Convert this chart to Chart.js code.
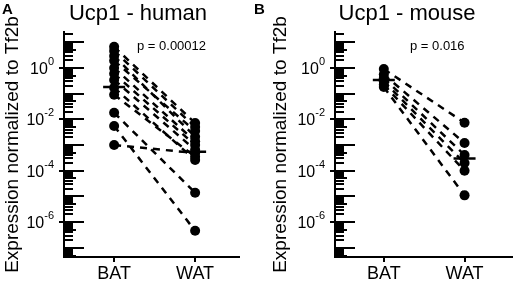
<!DOCTYPE html>
<html><head><meta charset="utf-8">
<script src="https://cdn.jsdelivr.net/npm/chart.js@4.4.0/dist/chart.umd.min.js"></script>
<style>
html,body{margin:0;padding:0;background:#fff;}
#wrap{position:relative;width:525px;height:283px;overflow:hidden;background:#fff;}
canvas{position:absolute;top:0;}
</style>
</head><body>
<div id="wrap">
<canvas id="cA" width="252" height="283" style="left:0px"></canvas>
<canvas id="cB" width="273" height="283" style="left:252px"></canvas>
</div>
<script>
// ---- data ----
const groups = ['BAT', 'WAT'];
const humanBAT = [6.6, 4.6, 2.9, 1.9, 1.0, 0.59, 0.34, 0.17, 0.09, 0.018, 0.0055, 0.001];
const humanWAT = [0.0072, 0.005, 0.0021, 0.0035, 0.0014, 0.001, 6.5e-4, 2.6e-4, 3.5e-4, 1.4e-5, 4.6e-7, 4.9e-4];
const humanMedian = [0.18, 5.5e-4];
const mouseBAT = [0.9, 0.55, 0.4, 0.3, 0.22, 0.18];
const mouseWAT = [0.0074, 0.0012, 4.1e-4, 2e-4, 1e-4, 1.1e-5];
const mouseMedian = [0.34, 3e-4];
const yLabelExponents = [0, -2, -4, -6];
const panelLetters = ['A', 'B'];
const panelTitles = ['Ucp1 - human', 'Ucp1 - mouse'];
const pValues = ['p = 0.00012', 'p = 0.016'];
const yTitle = 'Expression normalized to Tf2b';

const FF = '"Liberation Sans", Arial, Helvetica, sans-serif';
const YMIN = 4.4e-8, YMAX = 25;

function yTickValues() {
  const out = [];
  for (let k = -8; k <= 1; k++) {
    for (let m = 1; m <= 9; m++) {
      const v = m * Math.pow(10, k);
      if (v >= YMIN && v <= YMAX) out.push({ value: v, m: m, k: k });
    }
  }
  return out;
}

const deco = {
  id: 'deco',
  afterDraw(chart, args, o) {
    const ctx = chart.ctx;
    const ys = chart.scales.y;
    const x0 = chart.chartArea.left;
    ctx.save();
    ctx.strokeStyle = '#000';
    ctx.fillStyle = '#000';
    ctx.lineWidth = 2;
    // tick marks
    yTickValues().forEach(t => {
      const y = Math.round(ys.getPixelForValue(t.value));
      ctx.beginPath();
      let len = t.m === 1 ? 20 : (t.m === 5 ? 12 : 9);
      let start = x0;
      if (t.m === 1 && yLabelExponents.includes(t.k)) start = x0 - 5;
      ctx.moveTo(start, y);
      ctx.lineTo(x0 + len, y);
      ctx.stroke();
    });
    // tick labels with superscript
    yLabelExponents.forEach(k => {
      const y = ys.getPixelForValue(Math.pow(10, k));
      const right = x0 - 10;
      ctx.textAlign = 'right';
      ctx.textBaseline = 'alphabetic';
      ctx.font = '11px ' + FF;
      const sup = String(k);
      const sw = ctx.measureText(sup).width;
      ctx.fillText(sup, right, y - 3);
      ctx.font = '16px ' + FF;
      ctx.fillText('10', right - sw, y + 6);
    });
    // panel letter
    ctx.textAlign = 'left';
    ctx.textBaseline = 'alphabetic';
    ctx.font = 'bold 15px ' + FF;
    ctx.fillText(o.letter, o.letterX, 14);
    // title
    ctx.textAlign = 'center';
    ctx.font = '22px ' + FF;
    ctx.fillText(o.title, o.titleX, 20);
    // p value
    ctx.textAlign = 'left';
    ctx.font = '13px ' + FF;
    ctx.fillText(o.p, o.pX, 50);
    ctx.restore();
  }
};

function makeChart(id, c) {
  const datasets = [];
  c.bat.forEach((b, i) => {
    datasets.push({
      type: 'line',
      data: [{ x: 1, y: b }, { x: 2, y: c.wat[i] }],
      borderColor: '#000', borderWidth: 2.5, borderDash: [7, 6],
      pointRadius: 5, pointBackgroundColor: '#000', pointBorderColor: '#000', pointBorderWidth: 0,
      fill: false, tension: 0
    });
  });
  datasets.push({
    type: 'scatter',
    data: c.median.map((m, i) => ({ x: i + 1, y: m })),
    pointStyle: 'line', pointRadius: 11, borderColor: '#000',
    pointBorderColor: '#000', pointBorderWidth: 2.5
  });
  return new Chart(document.getElementById(id), {
    type: 'line',
    data: { datasets },
    options: {
      responsive: false, animation: false, events: [],
      layout: { padding: { left: 0, right: c.padRight, top: 32, bottom: 0 } },
      plugins: {
        legend: { display: false }, tooltip: { enabled: false },
        deco: { letter: c.letter, letterX: c.letterX, title: c.title, titleX: c.titleX, p: c.p, pX: c.pX }
      },
      scales: {
        x: {
          type: 'linear', min: c.xmin, max: c.xmax,
          afterBuildTicks: s => { s.ticks = [{ value: 1 }, { value: 2 }]; },
          ticks: { callback: v => groups[Math.round(v) - 1] || '', font: { size: 18, family: FF }, color: '#000', padding: 1, autoSkip: false, maxRotation: 0 },
          grid: { display: true, drawOnChartArea: false, drawTicks: true, tickLength: 5, color: '#000', lineWidth: 2 },
          border: { display: true, color: '#000', width: 2 },
          afterFit: s => { s.height = 26; }
        },
        y: {
          type: 'logarithmic', min: YMIN, max: YMAX,
          afterBuildTicks: s => { s.ticks = yTickValues().map(t => ({ value: t.value })); },
          ticks: { display: false },
          grid: { display: false },
          border: { display: true, color: '#000', width: 2 },
          title: { display: true, text: yTitle, color: '#000', font: { size: 19, family: FF }, padding: { top: c.titlePad, bottom: 0 } },
          afterFit: s => { s.width = c.axisX; }
        }
      }
    },
    plugins: [deco]
  });
}

makeChart('cA', {
  bat: humanBAT, wat: humanWAT, median: humanMedian,
  letter: panelLetters[0], letterX: 2, title: panelTitles[0], titleX: 138, p: pValues[0], pX: 137,
  xmin: 1 - 52 / 84, xmax: 2 + 45 / 84, padRight: 7, axisX: 64, titlePad: 1
});
makeChart('cB', {
  bat: mouseBAT, wat: mouseWAT, median: mouseMedian,
  letter: panelLetters[1], letterX: 2, title: panelTitles[1], titleX: 155, p: pValues[1], pX: 158,
  xmin: 1 - 52 / 86, xmax: 2 + 50 / 86, padRight: 2, axisX: 83, titlePad: 17
});
</script>
</body></html>
